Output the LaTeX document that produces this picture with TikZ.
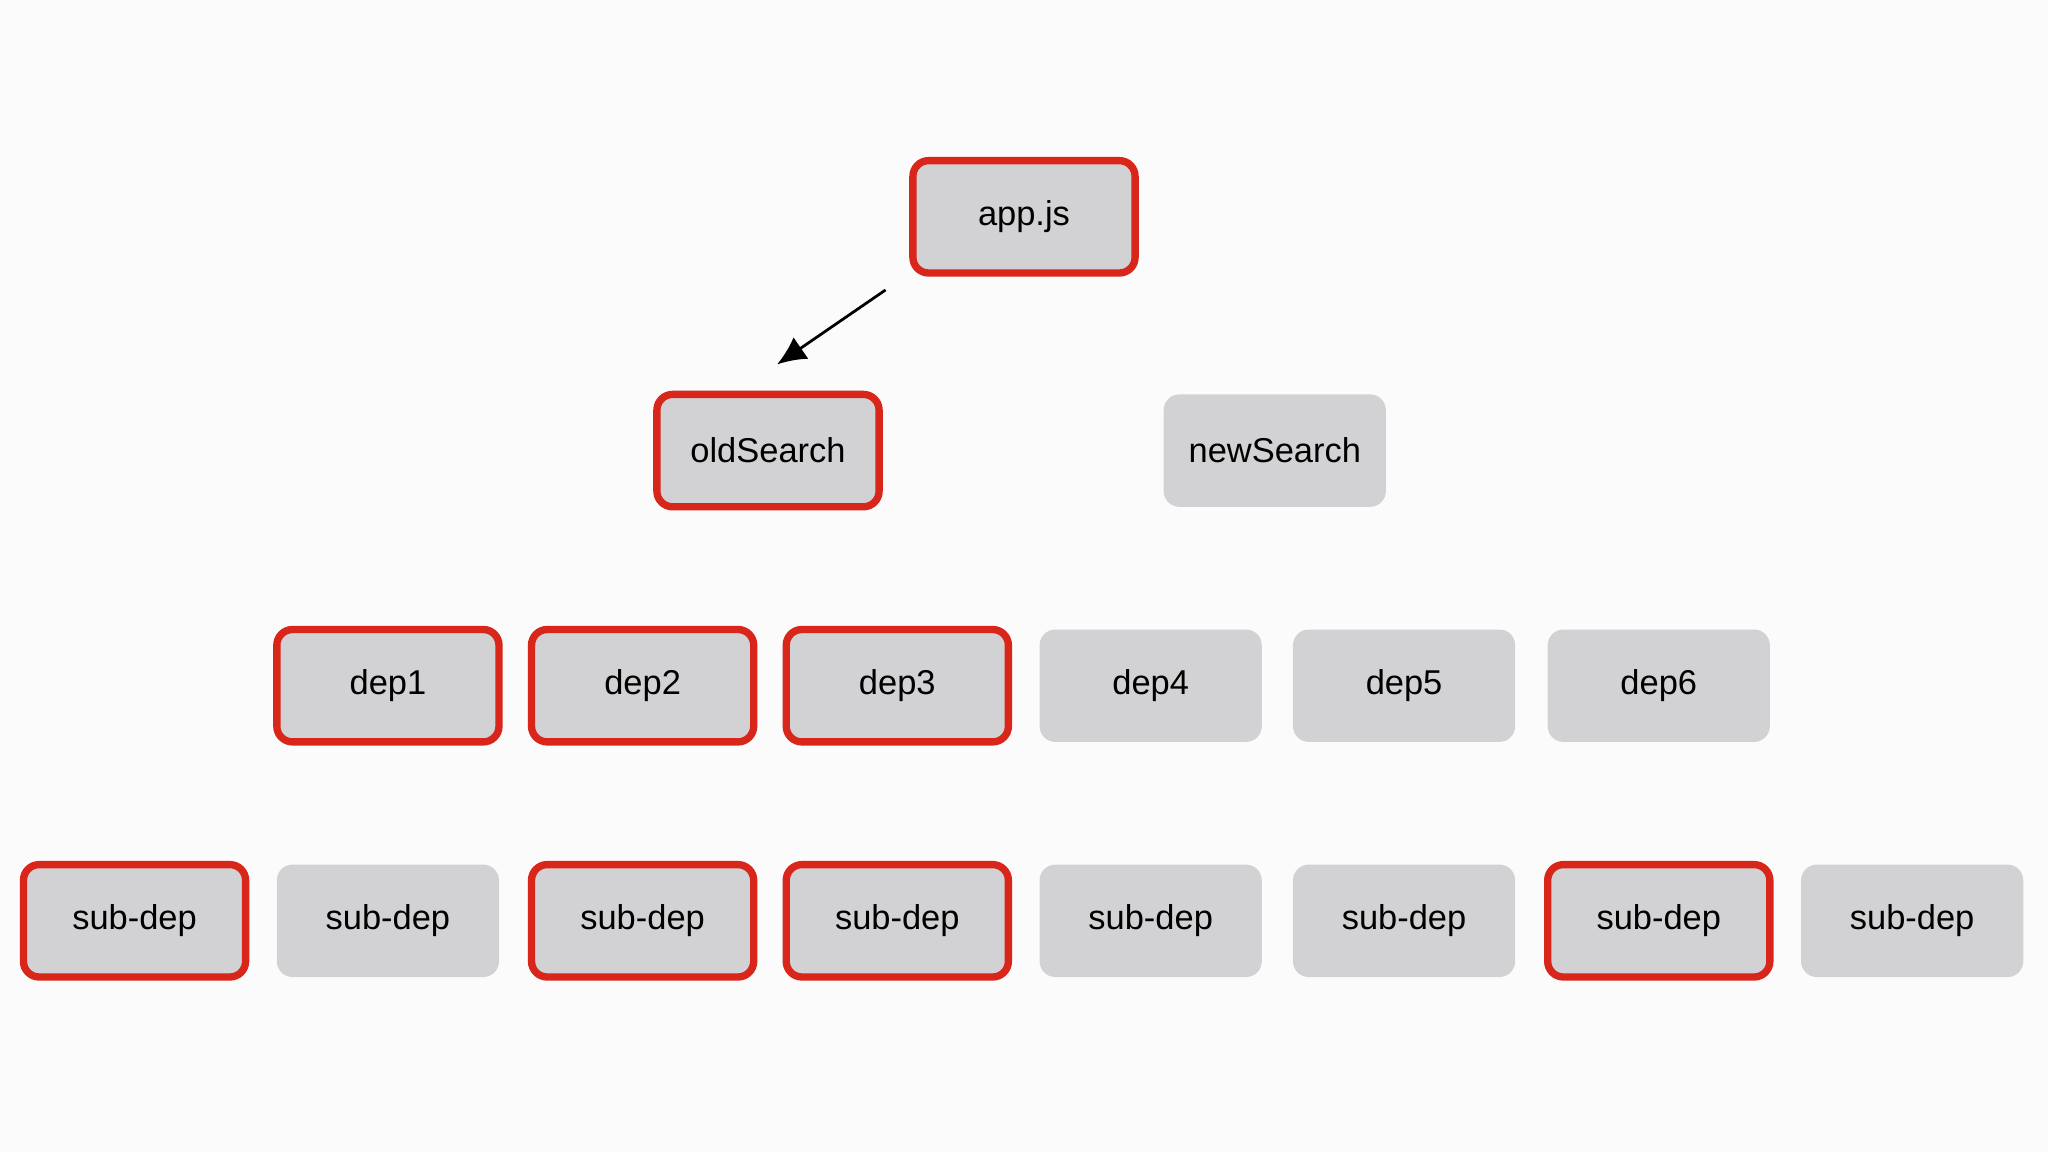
\documentclass[tikz,border=0pt]{standalone}
\usepackage{fontspec}
\setmainfont{Liberation Sans}
\usetikzlibrary{arrows.meta,positioning}
\definecolor{boxgray}{HTML}{D2D2D4}
\definecolor{hotred}{HTML}{D8261A}
\definecolor{bggray}{HTML}{FBFBFB}
\begin{document}
\begin{tikzpicture}[
    x=0.01cm, y=-0.01cm,
    mod/.style={rectangle, fill=boxgray, rounded corners=0.12cm, minimum width=1.7cm, minimum height=0.86cm, font=\fontsize{7.5}{9}\selectfont},
    hit/.style={mod, draw=hotred, line width=1.6pt},
    arrow/.style={-{Latex[length=0.22cm,width=0.2cm]}, semithick}
]
    \fill[bggray] (0,0) rectangle (1568,882);
    % Top
    \node[hit] (app) at (784,166) {app.js};
    \node[hit] (old) at (588,345) {oldSearch};
    \node[mod] (new) at (976,345) {newSearch};
    % Deps
    \node[hit] (dep1) at (297,525) {dep1};
    \node[hit] (dep2) at (492,525) {dep2};
    \node[hit] (dep3) at (687,525) {dep3};
    \node[mod] (dep4) at (881,525) {dep4};
    \node[mod] (dep5) at (1075,525) {dep5};
    \node[mod] (dep6) at (1270,525) {dep6};
    % Sub-deps
    \foreach \x/\s [count=\i] in {103/hit,297/mod,492/hit,687/hit,881/mod,1075/mod,1270/hit,1464/mod}
        \node[\s] (sub\i) at (\x,705) {sub-dep};
    % Arrow
    \coordinate (from) at (678,222);
    \coordinate (to) at (595,279);
    \draw[arrow] (from) -- (to);
\end{tikzpicture}
\end{document}
